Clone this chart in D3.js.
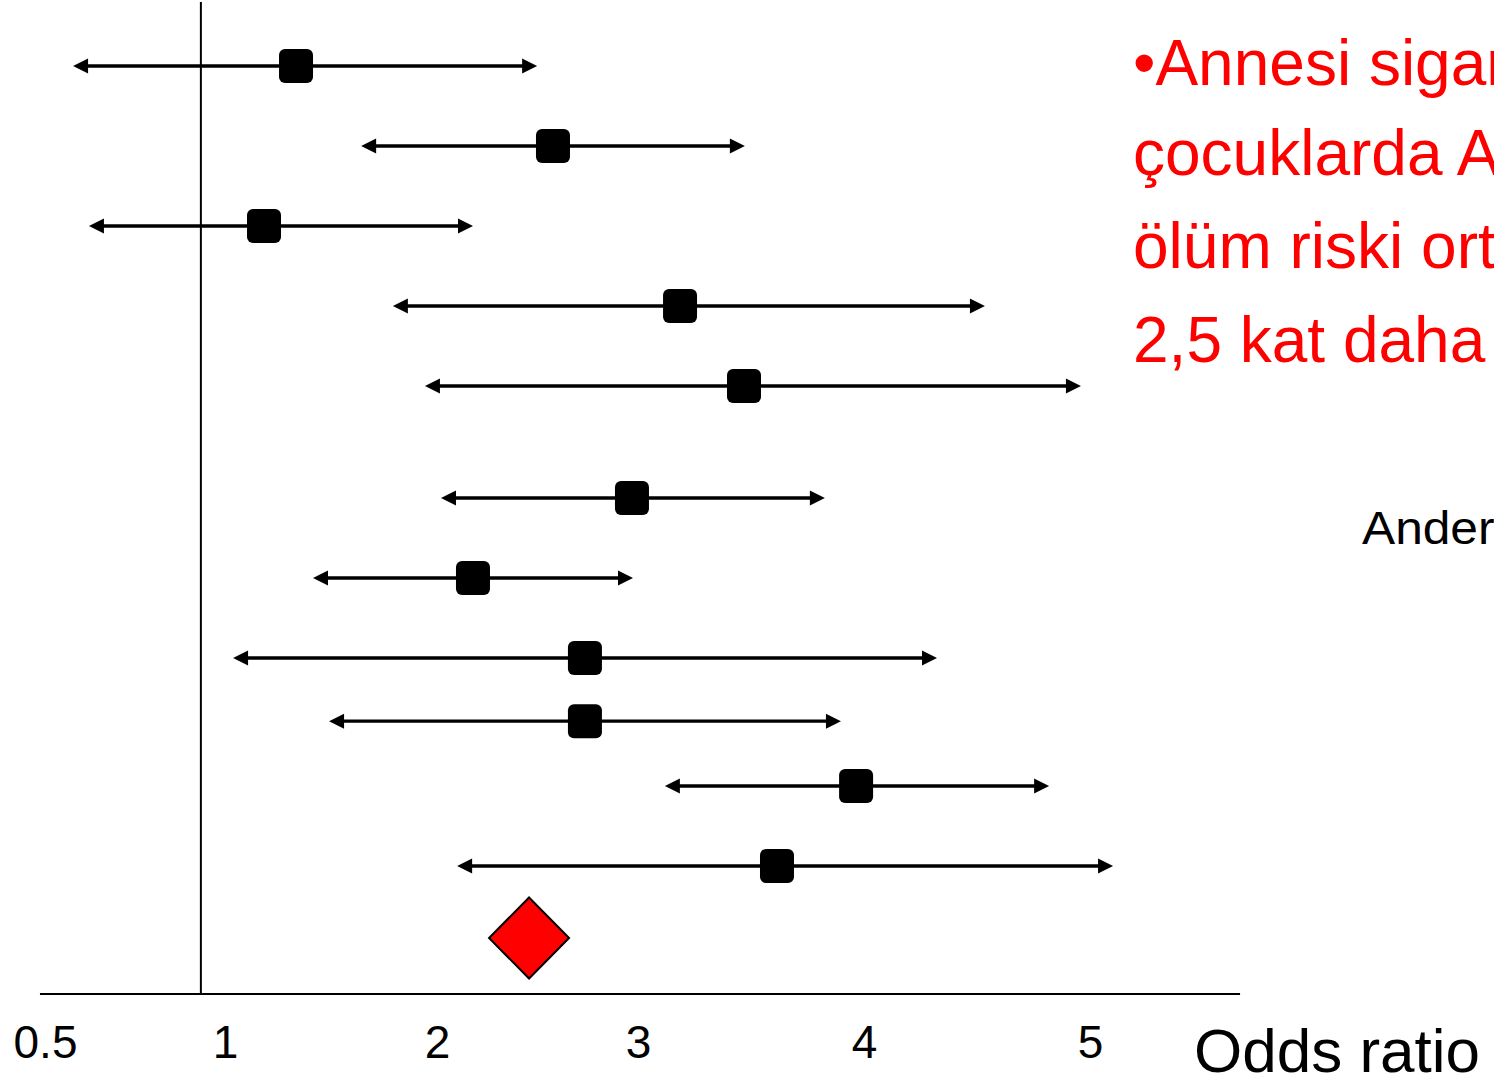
<!DOCTYPE html>
<html>
<head>
<meta charset="utf-8">
<script src="https://cdn.jsdelivr.net/npm/d3@7"></script>
<style>
  html, body { margin: 0; padding: 0; background: #fff; overflow: hidden; }
  svg { display: block; font-family: "Liberation Sans", Arial, sans-serif; }
</style>
</head>
<body>
<svg id="chart" width="1494" height="1081"></svg>
<script>
// ---- data ----
const tickValues = [0.5, 1, 2, 3, 4, 5];
const tickLabels = ["0.5", "1", "2", "3", "4", "5"];
const rows   = [0, 1, 2, 3, 4, 5.4, 6.4, 7.4, 8.19, 9.0, 10.0];
const oddsRatio = [1.335, 2.577, 1.184, 3.186, 3.469, 2.970, 2.179, 2.736, 2.736, 3.965, 3.615];
const ciLow     = [0.578, 1.642, 0.622, 1.792, 1.943, 2.020, 1.415, 1.038, 1.491, 3.119, 2.100];
const ciHigh    = [2.498, 3.473, 2.179, 4.535, 4.960, 3.827, 2.975, 4.323, 3.898, 4.819, 5.102];
const pooled = { row: 10.9, or: 2.458, lo: 2.259, hi: 2.657 };
const refLine = 0.933;
const axisExtent = [0.486, 5.664];
const xTitle = "Odds ratio";
const noteLines = ["•Annesi sigara içen", "çocuklarda ABÖS'den", "ölüm riski ortalama", "2,5 kat daha fazla"];
const sourceText = "Anderson HR, Cook DG, 1997";

// ---- layout ----
const svg = d3.select("#chart");
const x = d3.scaleLinear().domain(tickValues).range([45, 225, 437, 638, 864, 1090]);
const y = d3.scaleLinear().domain([0, 1]).range([66, 146]);
const axisY = 994;

// reference line
svg.append("line")
  .attr("x1", x(refLine)).attr("x2", x(refLine))
  .attr("y1", 2).attr("y2", axisY)
  .attr("stroke", "#000").attr("stroke-width", 2);

// axis
svg.append("line")
  .attr("x1", x(axisExtent[0])).attr("x2", x(axisExtent[1]))
  .attr("y1", axisY).attr("y2", axisY)
  .attr("stroke", "#000").attr("stroke-width", 2.2);

const axis = d3.axisBottom(x).tickValues(tickValues)
  .tickFormat((d, i) => tickLabels[i]).tickSize(0);
const ag = svg.append("g").attr("transform", `translate(0,${axisY})`).call(axis);
ag.select(".domain").remove();
ag.selectAll("text")
  .attr("y", 64).attr("dy", 0)
  .attr("font-size", 46)
  .attr("font-family", "'Liberation Sans', Arial, sans-serif")
  .attr("fill", "#000");

svg.append("text")
  .attr("x", 1194).attr("y", 1072)
  .attr("font-size", 62).attr("fill", "#000")
  .text(xTitle);

// studies
const data = rows.map((r, i) => ({ row: r, or: oddsRatio[i], lo: ciLow[i], hi: ciHigh[i] }));
const aL = 15, aH = 7.5;
const g = svg.append("g");
data.forEach(d => {
  const yy = y(d.row), x0 = x(d.lo), x1 = x(d.hi), xm = x(d.or);
  g.append("line")
    .attr("x1", x0 + aL - 2).attr("x2", x1 - aL + 2)
    .attr("y1", yy).attr("y2", yy)
    .attr("stroke", "#000").attr("stroke-width", 3.3);
  g.append("path")
    .attr("d", `M${x0},${yy} L${x0 + aL},${yy - aH} L${x0 + aL},${yy + aH} Z`)
    .attr("fill", "#000");
  g.append("path")
    .attr("d", `M${x1},${yy} L${x1 - aL},${yy - aH} L${x1 - aL},${yy + aH} Z`)
    .attr("fill", "#000");
  g.append("rect")
    .attr("x", xm - 17).attr("y", yy - 17)
    .attr("width", 34).attr("height", 34)
    .attr("rx", 6).attr("ry", 6)
    .attr("fill", "#000");
});

// pooled diamond
{
  const yy = y(pooled.row), xl = x(pooled.lo), xr = x(pooled.hi), xm = x(pooled.or);
  svg.append("path")
    .attr("d", `M${xm},${yy - 40.5} L${xr},${yy} L${xm},${yy + 40.5} L${xl},${yy} Z`)
    .attr("fill", "#ff0000").attr("stroke", "#000").attr("stroke-width", 2);
}

// red note text
const baselines = [85, 175, 268, 362];
noteLines.forEach((t, i) => {
  svg.append("text")
    .attr("x", 1133).attr("y", baselines[i])
    .attr("font-size", 64).attr("fill", "#ff0000")
    .text(t);
});

// source
svg.append("text")
  .attr("transform", "translate(1362,544) scale(1.08,1)")
  .attr("font-size", 46).attr("fill", "#000")
  .text(sourceText);
</script>
</body>
</html>
